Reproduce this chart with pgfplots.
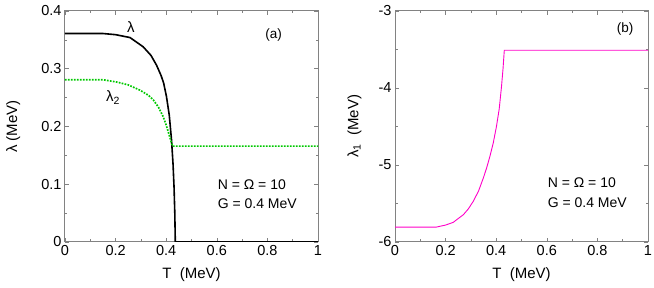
\documentclass[border=0pt]{standalone}
\usepackage{fontspec}
\setmainfont{Liberation Sans}
\usepackage{pgfplots}
\pgfplotsset{compat=1.18}
\definecolor{axgray}{RGB}{130,130,130}
\definecolor{mygreen}{RGB}{0,200,0}
\definecolor{mymag}{RGB}{255,0,200}
\begin{document}
\begin{tikzpicture}
\pgfplotsset{
  every axis/.append style={
    scale only axis, width=253pt, height=231pt,
    axis line style={axgray, line width=1pt},
    tick style={axgray, line width=0.6pt},
    tick align=inside,
    major tick length=4pt, minor tick length=2.5pt,
    xmin=0, xmax=1,
    xtick={0,0.2,0.4,0.6,0.8,1},
    minor xtick={0.1,0.3,0.5,0.7,0.9},
    xticklabels={0,0.2,0.4,0.6,0.8,1},
    /pgf/number format/assume math mode=true,
    tick label style={font=\fontsize{14.5}{17}\selectfont},
    label style={font=\fontsize{15}{18}\selectfont},
    xlabel={T\ \ (MeV)},
    xlabel style={at={(axis description cs:0.5,-0.143)}, anchor=center},
  }
}
\useasboundingbox (-65pt,-46pt) rectangle (589pt,242pt);
\begin{axis}[
  at={(0pt,0pt)}, anchor=south west,
  ymin=0, ymax=0.4,
  ytick={0,0.1,0.2,0.3,0.4},
  yticklabels={0,0.1,0.2,0.3,0.4},
  minor ytick={0.05,0.15,0.25,0.35},
  ylabel={λ (MeV)},
  ylabel style={at={(axis description cs:-0.205,0.5)}, anchor=center},
]
\addplot[black, line width=1.6pt] coordinates {
(0,0.361) (0.15,0.361) (0.2,0.359) (0.257,0.354) (0.309,0.338) (0.34,0.323) (0.362,0.306) (0.38,0.288) (0.39,0.275) (0.401,0.252) (0.412,0.220) (0.421,0.177) (0.427,0.135) (0.431,0.095) (0.434,0.05) (0.436,0) (1,0)
};
\addplot[mygreen, line width=1.7pt, dash pattern=on 1.7pt off 1.3pt] coordinates {
(0,0.281) (0.15,0.281) (0.204,0.277) (0.25,0.272) (0.296,0.263) (0.33,0.254) (0.349,0.246) (0.37,0.233) (0.388,0.217) (0.398,0.205) (0.408,0.191) (0.418,0.176) (0.425,0.166) (1,0.166)
};
\node[font=\fontsize{15}{18}\selectfont] at (axis cs:0.26,0.373) {λ};
\node[font=\fontsize{15}{18}\selectfont] at (axis cs:0.19,0.25) {λ\textsubscript{2}};
\node[font=\fontsize{13.5}{16}\selectfont] at (axis cs:0.825,0.359) {(a)};
\node[font=\fontsize{14}{17}\selectfont, anchor=west] at (axis cs:0.59,0.099) {N = Ω = 10};
\node[font=\fontsize{14}{17}\selectfont, anchor=west] at (axis cs:0.59,0.066) {G = 0.4 MeV};
\end{axis}
\begin{axis}[
  at={(330pt,0pt)}, anchor=south west,
  ymin=-6, ymax=-3,
  ytick={-6,-5,-4,-3},
  yticklabels={-6,-5,-4,-3},
  minor ytick={-5.5,-4.5,-3.5},
  ylabel={λ\textsubscript{1}\ \ (MeV)},
  ylabel style={at={(axis description cs:-0.16,0.5)}, anchor=center},
]
\addplot[mymag, line width=0.9pt] coordinates {
(0,-5.806) (0.164,-5.806) (0.2,-5.78) (0.23,-5.745) (0.27,-5.646) (0.29,-5.57) (0.309,-5.473) (0.33,-5.34) (0.349,-5.17) (0.362,-5.04) (0.375,-4.89) (0.388,-4.72) (0.401,-4.50) (0.412,-4.27) (0.421,-3.98) (0.427,-3.75) (0.432,-3.51) (1,-3.51)
};
\node[font=\fontsize{13.5}{16}\selectfont] at (axis cs:0.91,-3.24) {(b)};
\node[font=\fontsize{14}{17}\selectfont, anchor=west] at (axis cs:0.59,-5.235) {N = Ω = 10};
\node[font=\fontsize{14}{17}\selectfont, anchor=west] at (axis cs:0.59,-5.49) {G = 0.4 MeV};
\end{axis}
\end{tikzpicture}
\end{document}
